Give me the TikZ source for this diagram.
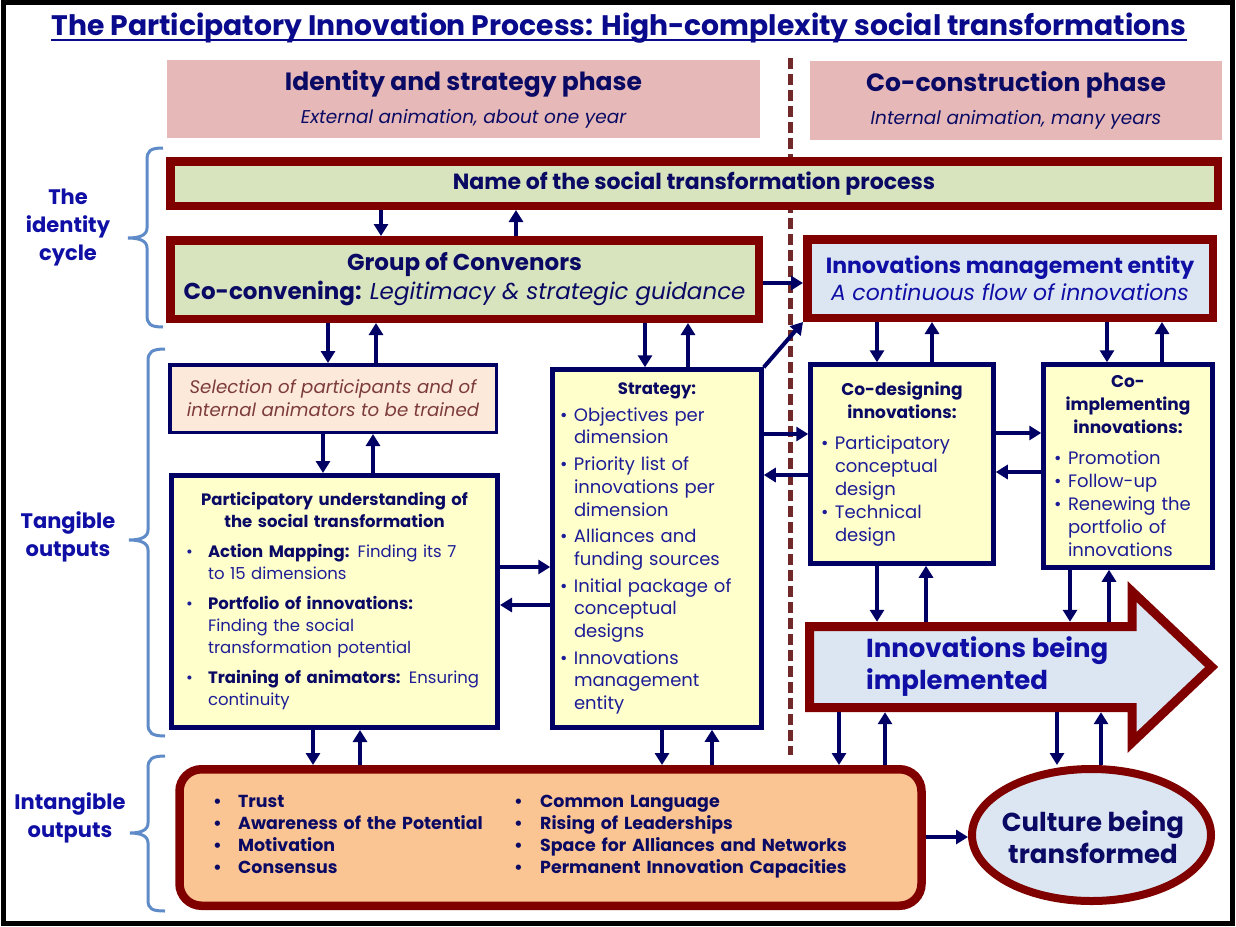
\documentclass[tikz,border=0pt]{standalone}
\usepackage{fontspec}
\setmainfont{Poppins}
\usetikzlibrary{arrows.meta,shapes.geometric}
\definecolor{dred}{RGB}{128,0,0}
\definecolor{greenF}{RGB}{215,228,189}
\definecolor{lblue}{RGB}{220,230,242}
\definecolor{yelF}{RGB}{255,255,204}
\definecolor{pinkP}{RGB}{230,185,184}
\definecolor{selF}{RGB}{253,233,217}
\definecolor{selC}{RGB}{125,60,60}
\definecolor{orF}{RGB}{250,197,146}
\definecolor{navyD}{RGB}{10,10,100}
\definecolor{blueT}{RGB}{28,28,150}
\definecolor{blueB}{RGB}{15,15,165}
\definecolor{lineN}{RGB}{0,0,100}
\definecolor{titleC}{RGB}{10,10,140}
\definecolor{braceC}{RGB}{95,140,200}
\definecolor{dashC}{RGB}{112,40,40}
\newcommand\fs[2]{\fontsize{#1}{#2}\selectfont}
\newcommand\bitem[2]{\par\hangindent=#1\hangafter=1\noindent\makebox[#1][l]{\textbullet}#2}
\newcommand\bgap[1]{\par\vspace{#1}}
\begin{document}
\begin{tikzpicture}[x=1pt,y=-1pt,
  arr/.style={draw=lineN, line width=4pt, -{Triangle[length=12pt,width=14pt]}},
  drbox/.style={draw=dred, line width=8.5pt, inner sep=0pt},
  nvbox/.style={draw=lineN, line width=5pt, inner sep=0pt},
  phase/.style={fill=pinkP, inner sep=0pt, align=center, text=navyD},
  lbl/.style={align=center, text=blueB, font=\fs{21}{28}\bfseries},
  brc/.style={draw=braceC, line width=3pt},
]
\useasboundingbox (0,0) rectangle (1236,926);
\fill[white] (0,0) rectangle (1236,926);
\draw[black, line width=5pt] (3.5,2.5) rectangle (1232.5,923.5);

% title
\node[inner sep=0pt, text=titleC, font=\fs{28.2}{32}\bfseries] (title) at (619,28)
  {The Participatory Innovation Process: High-complexity social transformations};
\draw[titleC, line width=2pt] ([yshift=-4.5pt]title.base west) -- ([yshift=-4.5pt]title.base east);

% phases
\node[phase, minimum width=593pt, minimum height=78pt] (ph1) at (463.5,99)
  {{\fs{25}{28}\bfseries Identity and strategy phase}\\[11pt]{\fs{18.5}{20}\itshape External animation, about one year}};
\node[phase, minimum width=412pt, minimum height=79pt] (ph2) at (1016,100.5)
  {{\fs{25}{28}\bfseries Co-construction phase}\\[11pt]{\fs{18.5}{20}\itshape Internal animation, many years}};

% dashed separator
\draw[dashC, line width=5pt, dash pattern=on 11pt off 5pt] (790,58) -- (790,755);

% left labels
\node[lbl] (lid) at (68,228) {The\\identity\\cycle};
\node[lbl] (ltan) at (68,537) {Tangible\\outputs};
\node[lbl] (lint) at (70,818) {Intangible\\outputs};

% braces
\draw[brc] (163,148) .. controls (150,148) and (147,151) .. (147,160) -- (147,228)
  .. controls (147,235) and (140,238) .. (128,238) .. controls (140,238) and (147,241) .. (147,248)
  -- (147,315) .. controls (147,324) and (150,327) .. (163,327);
\draw[brc] (165,349) .. controls (152,349) and (148,352) .. (148,361) -- (148,530)
  .. controls (148,537) and (141,540) .. (129,540) .. controls (141,540) and (148,543) .. (148,550)
  -- (148,724) .. controls (148,733) and (152,736) .. (165,736);
\draw[brc] (165,756) .. controls (152,756) and (148,759) .. (148,768) -- (148,823)
  .. controls (148,830) and (141,833) .. (130,833) .. controls (141,833) and (148,836) .. (148,843)
  -- (148,900) .. controls (148,909) and (152,911) .. (165,911);

% top boxes
\node[drbox, fill=greenF, minimum width=1047.5pt, minimum height=44.5pt, text=navyD,
  font=\fs{22}{24}\bfseries] (name) at (694,183.5) {Name of the social transformation process};
\node[drbox, fill=greenF, minimum width=588.5pt, minimum height=78.5pt, text=navyD, align=center,
  font=\fs{23}{29}] (conv) at (464.5,279.5)
  {\textbf{Group of Convenors}\\\textbf{Co-convening:} \textit{Legitimacy \& strategic guidance}};
\node[drbox, fill=lblue, minimum width=405.5pt, minimum height=78.5pt, text=blueB, align=center,
  font=\fs{22}{27}] (ime) at (1010,278.5)
  {\textbf{Innovations management entity}\\\textit{A continuous flow of innovations}};

% selection
\node[draw=lineN, line width=3.5pt, fill=selF, minimum width=326.5pt, minimum height=67.5pt,
  inner sep=0pt, align=center, text=selC, font=\fs{18.2}{23}\itshape] (sel) at (333,398.5)
  {Selection of participants and of\\internal animators to be trained};

% participatory understanding
\node[nvbox, fill=yelF, minimum width=326pt, minimum height=252pt, text width=297pt, align=left,
  text=blueT, font=\fs{16.5}{22}] (part) at (334.5,601.5)
  {\centerline{\color{navyD}\bfseries Participatory understanding of}
   \centerline{\color{navyD}\bfseries the social transformation}
   \bgap{8pt}\bitem{22pt}{\textcolor{navyD}{\textbf{Action Mapping:}} Finding its 7\newline to 15 dimensions}
   \bgap{8pt}\bitem{22pt}{\textcolor{navyD}{\textbf{Portfolio of innovations:}}\newline Finding the social\newline transformation potential}
   \bgap{8pt}\bitem{22pt}{\textcolor{navyD}{\textbf{Training of animators:}} Ensuring\newline continuity}\par};

% strategy
\node[nvbox, fill=yelF, minimum width=208.5pt, minimum height=357.5pt, text width=194pt, align=left,
  text=blueT, font=\fs{18}{22.7}] (strat) at (657,548.5)
  {\centerline{\color{navyD}\fs{16.5}{20}\bfseries Strategy:}
   \bgap{4pt}\bitem{14pt}{Objectives per\newline dimension}
   \bgap{4pt}\bitem{14pt}{Priority list of\newline innovations per\newline dimension}
   \bgap{4pt}\bitem{14pt}{Alliances and\newline funding sources}
   \bgap{4pt}\bitem{14pt}{Initial package of\newline conceptual\newline designs}
   \bgap{4pt}\bitem{14pt}{Innovations\newline management\newline entity}\par};

% co-designing
\node[nvbox, fill=yelF, minimum width=182.5pt, minimum height=198.5pt, text width=162pt, align=left,
  text=blueT, font=\fs{18}{23}] (codes) at (902,464)
  {\centerline{\color{navyD}\fs{17}{22}\bfseries Co-designing}
   \centerline{\color{navyD}\fs{17}{22}\bfseries innovations:}
   \bgap{8pt}\bitem{14pt}{Participatory\newline conceptual\newline design}
   \bitem{14pt}{Technical\newline design}\par};

% co-implementing
\node[nvbox, fill=yelF, minimum width=168.5pt, minimum height=202.5pt, text width=148pt, align=left,
  text=blueT, font=\fs{18}{23}] (coimp) at (1128,466)
  {\centerline{\color{navyD}\fs{17}{21.5}\bfseries Co-}
   \centerline{\color{navyD}\fs{17}{21.5}\bfseries implementing}
   \centerline{\color{navyD}\fs{17}{21.5}\bfseries innovations:}
   \bgap{8pt}\bitem{14pt}{Promotion}
   \bitem{14pt}{Follow-up}
   \bitem{14pt}{Renewing the\newline portfolio of\newline innovations}\par};

% big arrow
\draw[dred, line width=9pt, fill=lblue, miter limit=10]
  (809.5,626.5) -- (1132,626.5) -- (1132,591.5) -- (1211.6,667) -- (1132,742.5)
  -- (1132,707.5) -- (809.5,707.5) -- cycle;
\node[minimum width=332pt, minimum height=90pt, inner sep=0pt] (ib) at (971,667) {};
\node[anchor=west, inner sep=0pt, align=left, text=blueB, font=\fs{26}{32}\bfseries] (ibtext) at (866,667)
  {Innovations being\\implemented};

% bottom box
\node[draw=dred, line width=8.5pt, fill=orF, rounded corners=22pt, minimum width=742pt,
  minimum height=136.5pt, inner sep=0pt] (bot) at (550.5,837.5) {};
\node[anchor=north west, inner sep=0pt, text width=300pt, align=left, text=navyD,
  font=\fs{17.4}{22}\bfseries] (lcol) at (213,785)
  {\bitem{25pt}{Trust}\bitem{25pt}{Awareness of the Potential}\bitem{25pt}{Motivation}\bitem{25pt}{Consensus}\par};
\node[anchor=north west, inner sep=0pt, text width=370pt, align=left, text=navyD,
  font=\fs{17.4}{22}\bfseries] (rcol) at (514,785)
  {\bitem{26pt}{Common Language}\bitem{26pt}{Rising of Leaderships}\bitem{26pt}{Space for Alliances and Networks}\bitem{26pt}{Permanent Innovation Capacities}\par};

% culture ellipse
\node[ellipse, draw=dred, line width=8pt, fill=lblue, minimum width=239pt, minimum height=132pt,
  inner sep=0pt] (cult) at (1091.5,835) {};
\node[inner sep=0pt, align=center, text=navyD, font=\fs{26}{32}\bfseries] (culttext) at (1093,837)
  {Culture being\\transformed};

% connectors
\draw[arr] (name.south -| 381,0) -- (conv.north -| 381,0);
\draw[arr] (conv.north -| 516,0) -- (name.south -| 516,0);
\draw[arr] (conv.east |- 0,283) -- (ime.west |- 0,283);
\draw[arr] (conv.south -| 328,0) -- (sel.north -| 328,0);
\draw[arr] (sel.north -| 376,0) -- (conv.south -| 376,0);
\draw[arr] (conv.south -| 645,0) -- (strat.north -| 645,0);
\draw[arr] (strat.north -| 688,0) -- (conv.south -| 688,0);
\draw[arr] (sel.south -| 323,0) -- (part.north -| 323,0);
\draw[arr] (part.north -| 373,0) -- (sel.south -| 373,0);
\draw[arr] (part.east |- 0,567) -- (strat.west |- 0,567);
\draw[arr] (strat.west |- 0,605) -- (part.east |- 0,605);
\draw[arr] (strat.north east) -- (ime.south west);
\draw[arr] (strat.east |- 0,434) -- (codes.west |- 0,434);
\draw[arr] (codes.west |- 0,475) -- (strat.east |- 0,475);
\draw[arr] (codes.east |- 0,433) -- (coimp.west |- 0,433);
\draw[arr] (coimp.west |- 0,472) -- (codes.east |- 0,472);
\draw[arr] (ime.south -| 877,0) -- (codes.north -| 877,0);
\draw[arr] (codes.north -| 932,0) -- (ime.south -| 932,0);
\draw[arr] (ime.south -| 1107,0) -- (coimp.north -| 1107,0);
\draw[arr] (coimp.north -| 1162,0) -- (ime.south -| 1162,0);
\draw[arr] (codes.south -| 877,0) -- (ib.north -| 877,0);
\draw[arr] (ib.north -| 926,0) -- (codes.south -| 926,0);
\draw[arr] (coimp.south -| 1070,0) -- (ib.north -| 1070,0);
\draw[arr] (ib.north -| 1109,0) -- (coimp.south -| 1109,0);
\draw[arr] (part.south -| 313,0) -- (bot.north -| 313,0);
\draw[arr] (bot.north -| 360,0) -- (part.south -| 360,0);
\draw[arr] (strat.south -| 662,0) -- (bot.north -| 662,0);
\draw[arr] (bot.north -| 712,0) -- (strat.south -| 712,0);
\draw[arr] (ib.south -| 839,0) -- (bot.north -| 839,0);
\draw[arr] (bot.north -| 885,0) -- (ib.south -| 885,0);
\draw[arr] (ib.south -| 1057,0) -- (cult.north -| 1057,0);
\draw[arr] (cult.north -| 1101,0) -- (ib.south -| 1101,0);
\draw[arr] (bot.east |- 0,837) -- (cult.west |- 0,837);
\end{tikzpicture}
\end{document}
